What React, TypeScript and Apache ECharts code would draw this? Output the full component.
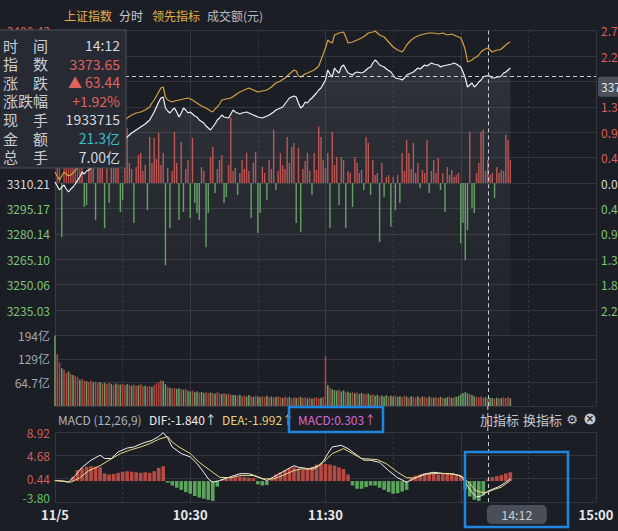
import React, { useEffect, useRef } from "react";
import * as echarts from "echarts";

const PREV_CLOSE = 3310.21;
const PRICE_STEP = 15.0367;
const CURSOR_MINUTE = 192;
const CURSOR_CHANGE = 63.44;

const timeTicks = [0, 60, 120, 240];
const timeTickLabels = ["11/5", "10:30", "11:30", "15:00"];

// 上证指数: change vs previous close (points), [trading minute, change]
const priceChange: [number, number][] = [[0,0.59],[1,-1.78],[2,-4.14],[3,-2.37],[4,-1.18],[5,-3.55],[6,-5.33],[7,-3.55],[8,-2.37],[9,-0.59],[10,1.78],[11,3.55],[12,6.51],[13,5.33],[14,7.10],[15,7.70],[17,10.06],[19,12.43],[21,14.21],[23,16.58],[25,18.94],[27,20.72],[29,23.68],[31,26.05],[32,27.23],[34,29.60],[36,31.38],[38,33.15],[40,34.93],[42,37.30],[44,42.03],[45,44.99],[46,47.95],[47,50.32],[48,50.91],[49,44.40],[50,42.62],[51,41.44],[52,43.22],[53,44.40],[54,42.03],[55,39.07],[56,41.44],[57,44.40],[58,43.22],[59,41.44],[60,42.03],[61,40.85],[62,39.66],[63,39.07],[64,37.30],[66,35.52],[67,33.74],[68,32.56],[69,31.38],[70,33.15],[71,34.93],[72,37.30],[73,38.48],[74,40.26],[75,39.07],[77,38.48],[78,40.85],[79,43.22],[80,42.03],[82,40.85],[83,41.44],[85,42.03],[86,41.44],[88,40.26],[90,39.07],[92,38.48],[94,39.66],[95,40.26],[97,42.03],[98,43.22],[100,44.40],[101,44.99],[103,48.54],[104,50.32],[106,51.50],[107,50.91],[108,47.36],[109,44.40],[110,45.58],[111,47.95],[112,47.36],[113,49.14],[114,50.32],[116,53.28],[117,55.06],[118,56.24],[119,58.61],[120,60.98],[121,66.90],[122,64.53],[123,62.75],[124,68.08],[125,66.30],[126,65.12],[127,68.67],[128,69.86],[129,67.49],[130,65.12],[131,64.53],[132,63.94],[133,65.12],[134,65.71],[136,65.12],[137,65.71],[139,68.08],[140,68.67],[141,71.04],[142,72.82],[143,71.63],[144,69.86],[145,69.26],[146,68.67],[147,67.49],[149,65.71],[150,63.94],[151,62.16],[153,61.57],[154,60.98],[155,62.16],[156,63.94],[158,65.12],[159,65.71],[160,66.90],[161,68.08],[162,67.49],[164,69.86],[165,69.26],[167,71.04],[168,70.45],[170,69.86],[171,68.67],[172,69.26],[174,69.86],[176,70.45],[177,71.04],[178,70.45],[180,68.67],[181,65.71],[182,62.16],[183,56.83],[184,58.02],[185,59.20],[186,56.83],[187,58.02],[188,59.79],[189,60.98],[190,62.75],[191,63.34],[192,63.44],[193,63.34],[194,62.16],[195,62.16],[196,62.75],[197,62.75],[198,63.34],[199,65.12],[200,65.71],[201,66.90],[202,68.08]];

// 领先指标: change vs previous close (points)
const leadChange: [number, number][] = [[0,6.51],[1,4.14],[2,1.78],[3,4.14],[4,6.51],[5,5.33],[6,4.14],[7,4.74],[8,5.92],[9,7.70],[10,8.88],[11,10.06],[12,11.84],[14,13.62],[16,15.39],[18,17.76],[20,20.13],[22,22.50],[24,24.86],[26,27.23],[28,30.19],[30,34.34],[32,38.48],[34,40.26],[36,41.44],[38,42.03],[40,43.22],[42,44.99],[43,47.36],[44,49.14],[45,51.50],[46,53.87],[47,56.24],[48,56.83],[49,50.91],[50,49.14],[51,48.54],[52,47.95],[53,48.54],[55,49.14],[57,49.73],[59,50.32],[60,49.73],[61,49.14],[63,47.36],[65,45.58],[67,44.40],[69,42.62],[70,42.03],[71,43.81],[72,44.99],[73,46.77],[74,49.14],[76,49.73],[78,50.32],[80,52.10],[82,53.87],[84,55.06],[86,56.24],[88,55.06],[90,53.87],[92,54.46],[94,55.06],[96,56.83],[98,59.20],[100,60.38],[102,62.16],[104,64.53],[106,66.90],[107,66.30],[108,63.34],[109,62.75],[111,64.53],[113,65.71],[115,66.90],[117,69.26],[118,72.82],[119,76.37],[120,79.92],[121,84.66],[122,83.47],[123,82.88],[124,87.62],[125,88.21],[126,88.80],[128,89.39],[129,86.43],[130,82.88],[132,83.47],[134,84.66],[136,85.84],[138,87.62],[139,88.80],[141,89.39],[142,89.98],[144,87.62],[146,86.43],[148,83.47],[150,80.51],[152,78.74],[154,77.55],[155,79.33],[156,81.70],[158,84.66],[160,86.43],[162,87.62],[164,88.21],[166,88.80],[168,88.80],[170,88.21],[172,88.80],[174,87.62],[176,88.21],[178,87.02],[180,85.84],[181,82.88],[182,78.74],[183,71.63],[184,72.22],[185,72.82],[186,74.00],[187,74.59],[188,75.78],[189,77.55],[190,78.74],[191,79.33],[192,79.92],[193,78.74],[194,77.55],[195,78.15],[196,78.74],[197,78.74],[198,79.33],[199,80.51],[200,81.70],[201,82.88],[202,83.47]];

// red / green strength bars around previous close, [minute, strength]
const strengthBars: [number, number][] = [[1,20],[2,25],[3,-54],[4,30],[5,18],[6,35],[7,22],[8,28],[9,40],[10,25],[11,32],[12,18],[13,-24],[14,-22],[15,30],[16,22],[17,45],[18,-37],[19,26],[20,35],[21,20],[22,-45],[23,28],[24,-20],[25,38],[26,24],[27,30],[28,42],[29,-29],[30,-17],[31,18],[32,55],[33,20],[34,14],[35,-40],[36,16],[37,28],[38,30],[39,12],[40,18],[41,-27],[42,46],[43,20],[44,45],[45,24],[46,50],[47,18],[48,30],[49,-82],[50,15],[51,-45],[52,12],[53,51],[54,20],[55,-37],[56,41],[57,-29],[58,14],[59,23],[60,-35],[61,45],[62,-20],[63,-30],[64,-37],[65,16],[66,12],[67,-64],[68,-30],[69,26],[70,36],[71,-10],[72,14],[73,23],[74,28],[75,-20],[76,-14],[77,18],[78,65],[79,12],[80,15],[81,-12],[82,10],[83,23],[84,14],[85,30],[86,12],[87,-35],[88,20],[89,31],[90,-50],[91,-30],[92,16],[93,10],[94,-17],[95,23],[96,14],[97,53],[98,-7],[99,12],[100,30],[101,18],[102,14],[103,46],[104,20],[105,36],[106,40],[107,-40],[108,35],[109,-49],[110,14],[111,22],[112,30],[113,12],[114,-12],[115,30],[116,13],[117,56],[118,46],[119,23],[120,15],[121,30],[122,-45],[123,51],[124,18],[125,26],[126,-22],[127,26],[128,23],[129,-45],[130,12],[131,10],[132,-24],[133,26],[134,20],[135,10],[136,13],[137,-7],[138,46],[139,40],[140,-12],[141,23],[142,8],[143,10],[144,-59],[145,20],[146,-14],[147,6],[148,8],[149,-44],[150,6],[151,-27],[152,8],[153,-20],[154,30],[155,12],[156,43],[157,30],[158,14],[159,40],[160,10],[161,20],[162,-5],[163,13],[164,10],[165,43],[166,-10],[167,12],[168,23],[169,10],[170,25],[171,-7],[172,10],[173,-29],[174,16],[175,8],[176,13],[177,6],[178,8],[179,10],[180,-60],[181,-40],[182,-77],[183,-47],[184,51],[185,-25],[186,-30],[187,10],[188,20],[189,51],[190,53],[191,12],[192,23],[193,8],[194,10],[195,-15],[196,16],[197,10],[198,13],[199,12],[200,48],[201,43],[202,23]];

// 成交额 per minute (亿元), index = minute
const turnover: number[] = [194,143,120,104,100,90,95,88,85,82,80,72,75,70,68,66,70,65,67,64,66,62,64,60,63,61,58,62,60,59,61,57,60,58,56,59,55,57,60,54,56,53,55,52,58,62,66,71,68,60,52,50,48,50,47,49,46,45,47,42,40,42,38,40,37,39,36,38,35,37,36,34,38,35,33,36,32,34,31,30,30,28,31,27,29,26,30,27,25,28,26,24,27,25,28,24,26,23,25,27,24,22,26,23,25,21,24,22,23,25,22,24,21,23,20,22,24,21,23,25,137,57,50,46,44,42,45,40,43,38,40,36,38,35,37,33,36,34,32,35,30,32,28,31,27,29,26,30,27,28,26,29,25,27,24,28,26,23,27,25,24,27,23,26,25,22,26,24,23,25,22,25,23,21,24,26,22,24,25,28,32,36,38,35,33,30,27,25,24,26,22,24,21,23,22,20,23,21,22,24,22,25,21];
// r = up minute, g = down minute
const turnoverDir = "grrgrrgrgr" + "rgrrgrrgrr" + "grgrrgrgrg" + "rrgrgrrgrr" + "grrgrrrrgg" + "rgrrggrgrg" + "grggrggrrg" + "rgrrgrgrrg" + "grgrrggrgr" + "ggrrgrgrgr" + "rgrrgrrgrg" + "rrgrgrrrgr" + "rgrgggrggr" + "ggrgrggrrg" + "grggrgggrg" + "grggrrgrgr" + "rgrgrrgrgr" + "rgrggrgrgg" + "ggggrggrrr" + "rgrggrgrgr" + "rrg";

// MACD histogram, [minute, value]
const macdHist: [number, number][] = [[0,0.1],[2,0.05],[4,-0.05],[6,-0.1],[8,0.8],[10,2.0],[12,2.4],[14,2.6],[16,2.7],[18,2.6],[20,2.5],[22,1.4],[24,1.2],[26,1.3],[28,1.5],[30,1.7],[32,1.8],[34,1.7],[36,1.6],[38,1.5],[40,1.6],[42,1.5],[44,1.8],[46,2.4],[48,2.7],[50,-0.3],[52,-0.8],[54,-1.2],[56,-1.6],[58,-2.0],[60,-2.3],[62,-2.7],[64,-3.0],[66,-3.2],[68,-3.4],[70,-3.6],[72,-1.0],[74,0.3],[76,0.5],[78,0.6],[80,0.7],[82,0.8],[84,0.7],[86,0.6],[88,0.5],[90,-0.6],[92,-0.8],[94,-0.7],[96,0.5],[98,1.2],[100,1.6],[102,2.0],[104,2.3],[106,2.5],[108,2.3],[110,2.1],[112,2.3],[114,2.6],[116,3.0],[118,3.2],[120,3.1],[122,3.0],[124,2.8],[126,2.5],[128,2.2],[130,1.2],[132,-0.8],[134,-1.4],[136,-1.4],[138,-1.1],[140,-0.8],[142,-0.8],[144,-1.2],[146,-1.6],[148,-2.0],[150,-2.3],[152,-2.2],[154,-1.9],[156,-1.6],[158,0.5],[160,1.0],[162,1.2],[164,1.4],[166,1.5],[168,1.3],[170,1.2],[172,1.4],[174,1.5],[176,1.3],[178,1.1],[180,1.0],[182,-1.5],[184,-2.8],[186,-3.4],[188,-3.6],[190,-2.6],[192,0.3],[194,0.7],[196,0.9],[198,1.1],[200,1.4],[202,1.6]];

const difLine: [number, number][] = [[0,0.1],[3,0.0],[6,-0.2],[9,1.0],[12,2.5],[16,3.8],[20,4.7],[22,4.1],[25,4.1],[28,5.3],[32,6.0],[35,6.2],[39,6.9],[43,7.4],[46,8.1],[48,8.8],[50,7.8],[52,6.2],[56,5.0],[60,4.4],[63,3.2],[66,1.6],[68,0.4],[70,-0.2],[73,0.1],[78,0.8],[82,1.35],[86,1.35],[90,0.8],[94,0.1],[98,1.0],[102,1.9],[106,2.8],[108,2.5],[110,2.4],[113,2.2],[117,2.8],[119,3.6],[121,5.0],[123,6.2],[127,6.5],[130,5.9],[134,4.7],[137,3.8],[140,3.8],[144,3.4],[148,1.9],[152,0.6],[156,-0.2],[160,0.6],[163,1.2],[168,1.6],[172,1.4],[176,1.3],[180,1.0],[182,-0.2],[183,-0.85],[185,-2.1],[187,-2.9],[189,-2.7],[192,-1.84],[194,-1.5],[197,-1.0],[200,-0.2],[202,0.4]];

const deaLine: [number, number][] = [[0,0.1],[4,0.0],[7,-0.2],[11,0.6],[15,1.9],[20,2.8],[24,3.8],[29,5.0],[33,5.6],[38,6.2],[42,6.8],[46,7.6],[50,8.1],[52,7.1],[55,6.2],[60,5.0],[64,3.4],[69,1.9],[73,0.7],[78,0.6],[82,1.0],[88,1.0],[92,0.4],[97,0.4],[101,1.0],[106,1.9],[109,2.2],[115,2.2],[119,3.4],[123,5.0],[128,5.9],[132,5.0],[136,4.1],[143,3.9],[147,3.15],[152,1.6],[156,0.6],[160,0.6],[165,1.3],[171,1.4],[177,1.3],[181,0.7],[184,-0.5],[187,-1.8],[190,-2.1],[192,-1.99],[195,-1.5],[198,-1.1],[200,-0.5],[202,0.07]];

const VOL_MAX = 194.1;
const VOL_STEP = 64.7;
const MACD_MIN = -3.8;
const MACD_MAX = 8.92;
const MACD_STEP = 4.24;

const tipLabels = ["时\u3000间", "指\u3000数", "涨\u3000跌", "涨跌幅", "现\u3000手", "金\u3000额", "总\u3000手"];
const tipValues = ["14:12", "3373.65", "▲ 63.44", "+1.92%", "1933715", "21.3亿", "7.00亿"];
const tipColors = ["#d5d8de", "#e0625c", "#e0625c", "#e0625c", "#d5d8de", "#3bbec4", "#d5d8de"];

const FONT = '"Noto Sans CJK SC", "Noto Sans", sans-serif';
const RED_TXT = "#d9605a";
const GREEN_TXT = "#7cc47c";
const GRID_C = "#33363e";
const BG = "#1c1e25";

export default function App() {
  const ref = useRef<HTMLDivElement>(null);
  useEffect(() => {
    document.body.style.margin = "0";
    document.body.style.background = BG;
    const chart = echarts.init(ref.current!, undefined, { renderer: "svg" });

    const xAxes = [0, 1, 2].map((i) => ({
      type: "value",
      gridIndex: i,
      min: 0,
      max: 240,
      interval: 60,
      axisLine: { show: false },
      axisTick: { show: false },
      axisLabel:
        i === 2
          ? {
              show: true,
              color: "#e6e8ec",
              fontSize: 13,
              fontWeight: "bold",
              margin: 6,
              showMaxLabel: true,
              showMinLabel: true,
              hideOverlap: false,
              formatter: (v: number) => {
                const k = timeTicks.indexOf(Math.round(v));
                return k >= 0 ? timeTickLabels[k] : "";
              },
            }
          : { show: false },
      splitLine: { show: true, lineStyle: { color: GRID_C, width: 1 } },
      minorTick: { show: false, splitNumber: 2 },
      minorSplitLine: { show: true, lineStyle: { color: "#3a3d46", type: [2, 3], width: 1 } },
    }));

    const priceRange = 6 * PRICE_STEP;
    const dashed = { color: "#c8ccd4", type: [4, 3] as any, width: 1 };
    // labels that sit under the tooltip box / price tag are not visible in the original
    const hiddenLeft = (v: number) => v > 1 && v < priceRange - 1;
    const hiddenRight = (v: number) => v < CURSOR_CHANGE && v > CURSOR_CHANGE - 13;
    const labelColor = (v: any) => (Number(v) > 0.01 ? RED_TXT : Number(v) < -0.01 ? GREEN_TXT : "#d5d8de");

    const gridBase = { left: 55, right: 22, containLabel: false, outerBoundsMode: "none" };

    const option: any = {
      animation: false,
      backgroundColor: BG,
      textStyle: { fontFamily: FONT },
      grid: [
        { ...gridBase, top: 30.6, height: 304.8 },
        { ...gridBase, top: 335.4, height: 70.6 },
        { ...gridBase, top: 432, height: 70 },
      ],
      xAxis: xAxes,
      yAxis: [
        {
          type: "value",
          gridIndex: 0,
          position: "left",
          min: -priceRange,
          max: priceRange,
          interval: PRICE_STEP,
          axisLine: { show: false },
          axisTick: { show: false },
          splitLine: { show: true, lineStyle: { color: GRID_C } },
          axisLabel: {
            margin: 5,
            fontSize: 12,
            showMinLabel: false,
            formatter: (v: number) => (hiddenLeft(Number(v)) ? "" : (PREV_CLOSE + Number(v)).toFixed(2)),
            color: labelColor,
          },
        },
        {
          type: "value",
          gridIndex: 0,
          position: "right",
          min: -priceRange,
          max: priceRange,
          interval: PRICE_STEP,
          axisLine: { show: false },
          axisTick: { show: false },
          splitLine: { show: false },
          axisLabel: {
            margin: 5,
            fontSize: 12,
            showMinLabel: false,
            formatter: (v: number) =>
              hiddenRight(Number(v)) ? "" : ((Math.abs(Number(v)) / PREV_CLOSE) * 100).toFixed(2) + "%",
            color: labelColor,
          },
        },
        { type: "value", gridIndex: 0, min: -152, max: 152, show: false },
        {
          type: "value",
          gridIndex: 1,
          min: 0,
          max: VOL_MAX,
          interval: VOL_STEP,
          axisLine: { show: false },
          axisTick: { show: false },
          splitLine: { show: true, lineStyle: { color: GRID_C } },
          axisLabel: {
            margin: 5,
            fontSize: 12,
            color: "#a3a7af",
            showMinLabel: false,
            formatter: (v: number) => (v < 100 ? Number(v).toFixed(1) : Number(v).toFixed(0)) + "亿",
          },
        },
        {
          type: "value",
          gridIndex: 2,
          min: 0,
          max: MACD_MAX - MACD_MIN,
          interval: MACD_STEP,
          axisLine: { show: false },
          axisTick: { show: false },
          splitLine: { show: true, lineStyle: { color: GRID_C } },
          axisLabel: {
            margin: 5,
            fontSize: 12,
            formatter: (v: number) => {
              const t = Number(v) + MACD_MIN;
              const s = t.toFixed(2);
              if (Math.abs(Number(v)) < 1e-6) return "{lo|" + s + "}";
              return "{hi|" + s + "}";
            },
            rich: {
              lo: { color: "#62c062", fontSize: 12, padding: [0, 0, 10, 0] },
              hi: { color: "#cc5f58", fontSize: 12 },
            },
          },
        },
        { type: "value", gridIndex: 2, min: MACD_MIN, max: MACD_MAX, show: false },
      ],
      series: [
        {
          type: "bar",
          name: "强弱",
          xAxisIndex: 0,
          yAxisIndex: 2,
          barWidth: 1.4,
          silent: true,
          data: strengthBars.map(([m, v]) => ({
            value: [m, v],
            itemStyle: { color: v >= 0 ? "#b94c48" : "#5e9e5e" },
          })),
        },
        {
          type: "line",
          name: "上证指数",
          xAxisIndex: 0,
          yAxisIndex: 0,
          data: priceChange,
          symbol: "none",
          z: 4,
          lineStyle: { color: "#f2f2f2", width: 1.2 },
          areaStyle: {
            origin: "start",
            color: new echarts.graphic.LinearGradient(0, 0, 0, 1, [
              { offset: 0, color: "rgba(215,220,235,0.15)" },
              { offset: 1, color: "rgba(215,220,235,0.03)" },
            ]),
          },
          markLine: {
            silent: true,
            symbol: ["none", "none"],
            label: { show: false },
            lineStyle: dashed,
            data: [{ xAxis: CURSOR_MINUTE }, { yAxis: CURSOR_CHANGE }],
          },
        },
        {
          type: "line",
          name: "领先指标",
          xAxisIndex: 0,
          yAxisIndex: 0,
          data: leadChange,
          symbol: "none",
          z: 4,
          lineStyle: { color: "#d4a03f", width: 1.2 },
        },
        {
          type: "bar",
          name: "成交额",
          xAxisIndex: 1,
          yAxisIndex: 3,
          barWidth: 1.6,
          silent: true,
          data: turnover.map((v, i) => ({
            value: [i, v],
            itemStyle: { color: turnoverDir[i] === "r" ? "#a8473f" : "#6b9a66" },
          })),
          markLine: {
            silent: true,
            symbol: ["none", "none"],
            label: { show: false },
            lineStyle: dashed,
            data: [{ xAxis: CURSOR_MINUTE }],
          },
        },
        {
          type: "bar",
          name: "MACD",
          xAxisIndex: 2,
          yAxisIndex: 5,
          barWidth: 3.6,
          silent: true,
          data: macdHist.map(([m, v]) => ({
            value: [m, v],
            itemStyle: { color: v >= 0 ? "#b84a44" : "#5aa55a" },
          })),
        },
        {
          type: "line",
          name: "DIF",
          xAxisIndex: 2,
          yAxisIndex: 5,
          data: difLine,
          symbol: "none",
          z: 4,
          lineStyle: { color: "#f2f2f2", width: 1 },
          markLine: {
            silent: true,
            symbol: ["none", "none"],
            label: { show: false },
            lineStyle: dashed,
            data: [{ xAxis: CURSOR_MINUTE }],
          },
        },
        {
          type: "line",
          name: "DEA",
          xAxisIndex: 2,
          yAxisIndex: 5,
          data: deaLine,
          symbol: "none",
          z: 4,
          lineStyle: { color: "#e8d888", width: 1 },
        },
      ],
    };
    chart.setOption(option);

    const cx = chart.convertToPixel({ xAxisIndex: 0 }, CURSOR_MINUTE) as number;
    const cy = chart.convertToPixel({ yAxisIndex: 0 }, CURSOR_CHANGE) as number;

    const txt = (text: string, x: number, y: number, fill: string, size: number, align = "left", family = FONT, weight = "normal") => ({
      type: "text",
      z: 100,
      x,
      y,
      style: { text, fill, font: `${weight} ${size}px ${family}`, align, verticalAlign: "middle" },
    });

    const graphics: any[] = [
      // header
      txt("上证指数", 64, 15, "#e4b04a", 12),
      txt("分时", 119, 15, "#c9ccd2", 12),
      txt("领先指标", 152, 15, "#e4b04a", 12),
      txt("成交额(元)", 207, 15, "#b8bcc4", 12),
      // tooltip box
      {
        type: "rect",
        z: 99,
        shape: { x: -1, y: 30, width: 127, height: 138 },
        style: { fill: "#272a32", stroke: "#4d5058", lineWidth: 1 },
      },
      ...tipLabels.map((l, i) => txt(l, 3, 45 + i * 18.6, "#c9ccd2", 15)),
      ...tipValues.map((v, i) => txt(v, 120, 45 + i * 18.6, tipColors[i], 14, "right")),
      // current price tag on right axis
      {
        type: "rect",
        z: 99,
        shape: { x: 598, y: cy + 1, width: 40, height: 20, r: 2 },
        style: { fill: "#4b505c" },
      },
      txt("3373.65", 601, cy + 11, "#e4e6ea", 12),
      // crosshair through legend row
      {
        type: "line",
        z: 50,
        shape: { x1: cx, y1: 406, x2: cx, y2: 432 },
        style: { stroke: "#c8ccd4", lineDash: [4, 3], lineWidth: 1 },
      },
      // MACD legend
      txt("MACD (12,26,9)", 58, 419, "#aeb2ba", 12),
      txt("DIF:-1.840↑", 149, 419, "#ececec", 12),
      txt("DEA:-1.992↑", 222, 419, "#e6cf7c", 12),
      txt("MACD:0.303↑", 298, 419, "#d46ad8", 12),
      {
        type: "rect",
        z: 100,
        shape: { x: 289, y: 407, width: 94, height: 25 },
        style: { fill: "none", stroke: "#1f86e0", lineWidth: 2.5 },
      },
      txt("加指标", 480, 419, "#c4c7ce", 13),
      txt("换指标", 523, 419, "#c4c7ce", 13),
      txt("⚙", 572, 419, "#c4c7ce", 13, "center", '"DejaVu Sans"'),
      { type: "circle", z: 100, shape: { cx: 590, cy: 419, r: 5.5 }, style: { fill: "#c4c7ce" } },
      txt("×", 590, 418.5, BG, 10, "center", '"DejaVu Sans"', "bold"),
      // cursor time label
      {
        type: "rect",
        z: 100,
        shape: { x: cx - 1, y: 505, width: 60, height: 19, r: 5 },
        style: { fill: "#4a4e59" },
      },
      txt("14:12", cx + 29, 514.5, "#c8ccd3", 12.5, "center"),
      {
        type: "rect",
        z: 100,
        shape: { x: 465, y: 452, width: 103, height: 75 },
        style: { fill: "none", stroke: "#1f86e0", lineWidth: 2.5 },
      },
    ];
    chart.setOption({ graphic: graphics });

    return () => chart.dispose();
  }, []);

  return <div ref={ref} style={{ position: "fixed", left: 0, top: 0, width: 618, height: 531, background: BG }} />;
}
